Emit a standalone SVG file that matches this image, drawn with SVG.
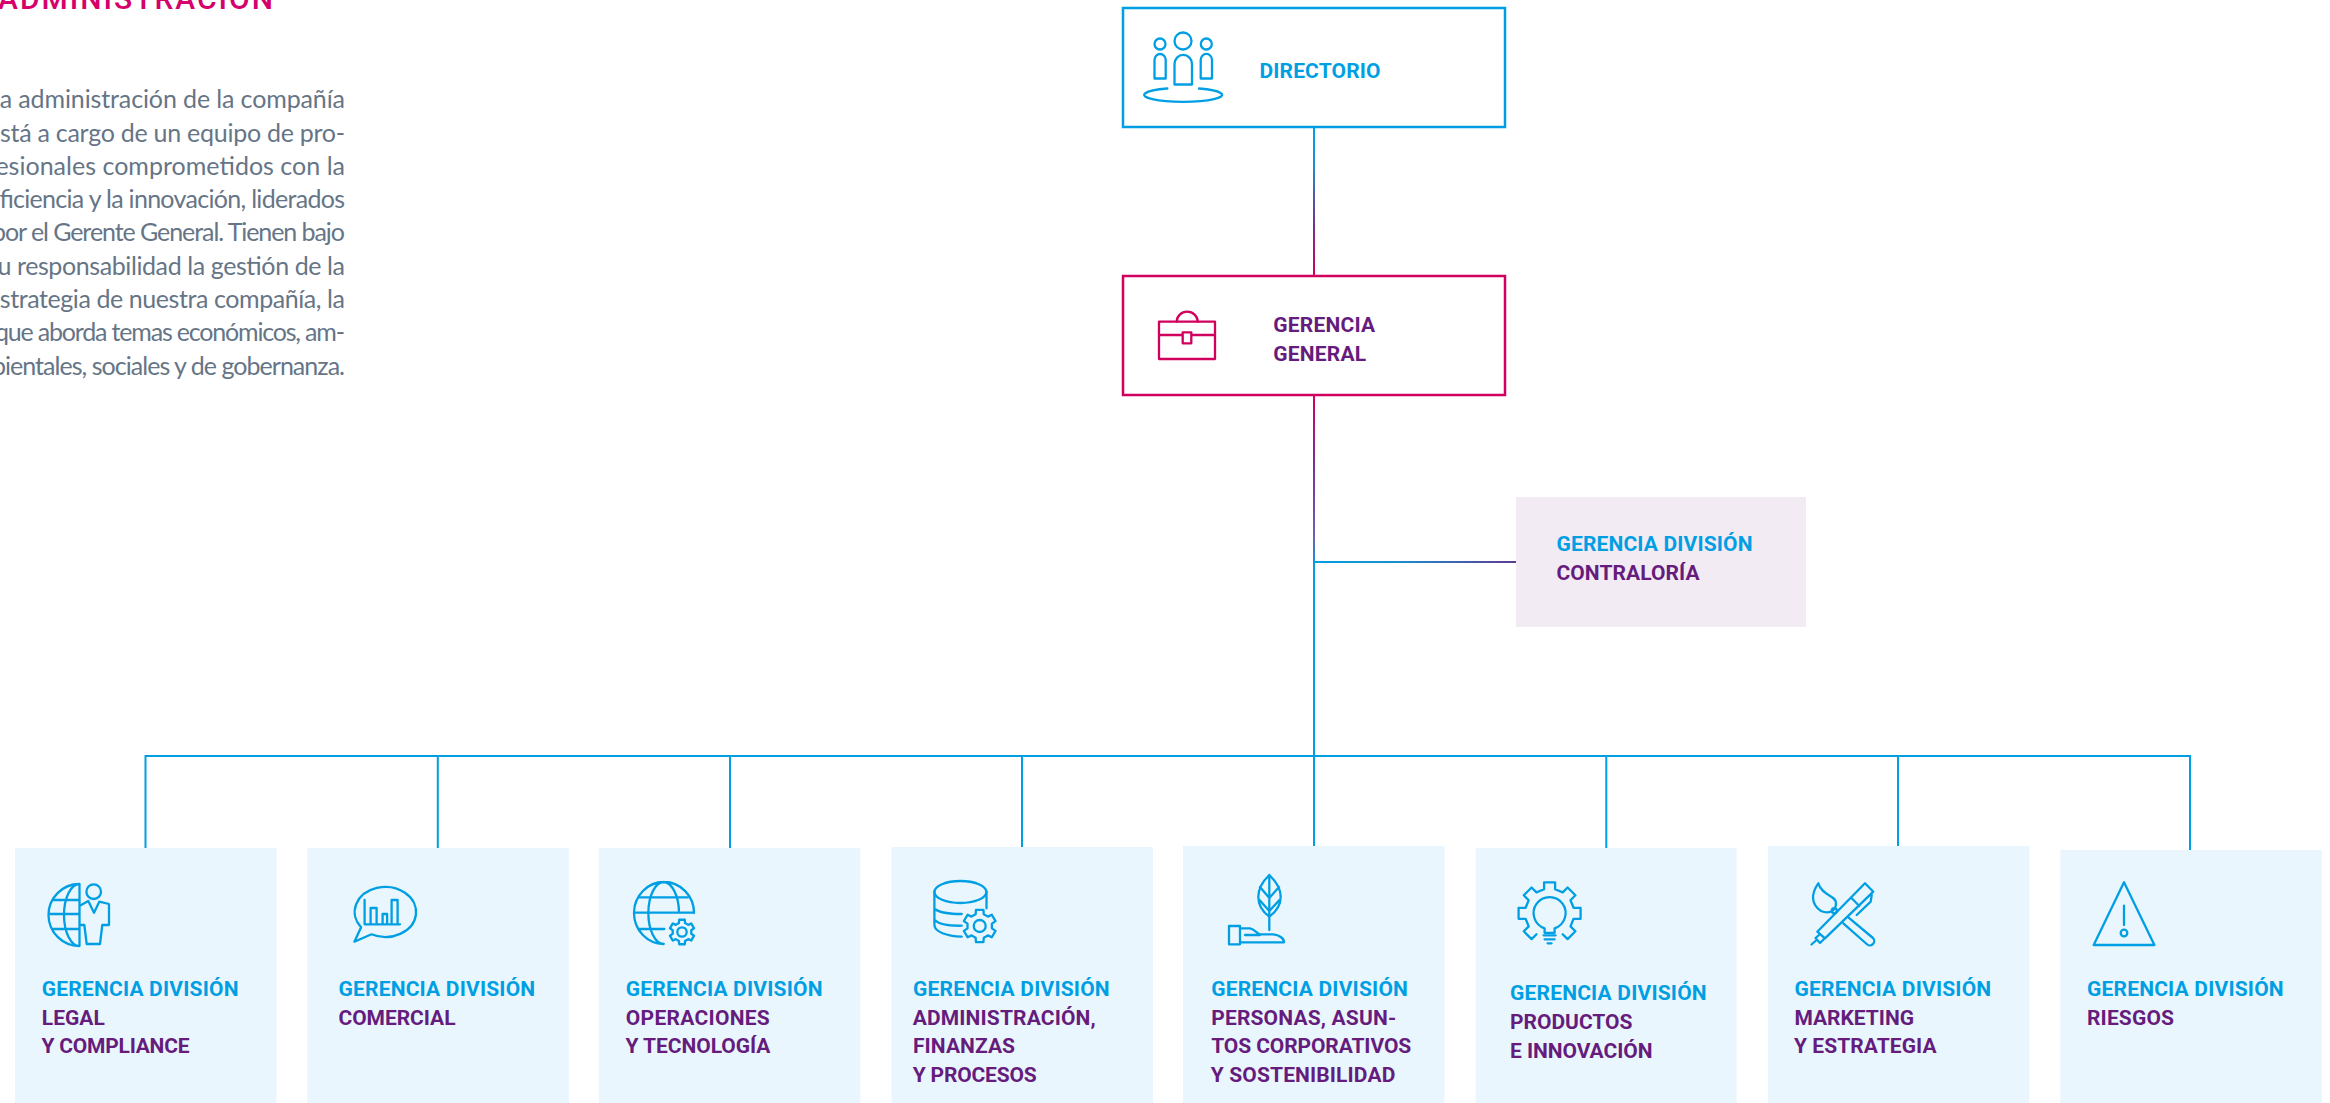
<svg xmlns="http://www.w3.org/2000/svg" width="2330" height="1103" viewBox="0 0 2330 1103">
<style>
text{font-family:"Roboto","Liberation Sans",sans-serif;font-weight:700;font-size:21px}
.b{fill:#009fe3}
.p{fill:#651c7d}
.body{font-family:"Lato","Noto Sans",sans-serif;font-weight:400;font-size:25px;fill:#667586}
.title{font-weight:500;font-size:30px;fill:#d6006d}
.ic{fill:none;stroke:#009fe3;stroke-width:2.3;stroke-linejoin:round;stroke-linecap:round}
.ic.m{stroke:#d1005f}
.card{fill:#eaf6fd}
.lines{fill:none;stroke-width:2}
</style>
<defs>
<linearGradient id="g1" gradientUnits="userSpaceOnUse" x1="1314" y1="127" x2="1314" y2="275"><stop offset="0" stop-color="#009fe3"/><stop offset=".25" stop-color="#1d8fd0"/><stop offset=".65" stop-color="#70338f"/><stop offset="1" stop-color="#d1005f"/></linearGradient>
<linearGradient id="g2" gradientUnits="userSpaceOnUse" x1="1314" y1="395" x2="1314" y2="570"><stop offset="0" stop-color="#d1005f"/><stop offset=".4" stop-color="#7a2f96"/><stop offset=".8" stop-color="#6f5db5"/><stop offset="1" stop-color="#009fe3"/></linearGradient>
<linearGradient id="g3" gradientUnits="userSpaceOnUse" x1="1314" y1="562" x2="1516" y2="562"><stop offset="0" stop-color="#009fe3"/><stop offset=".4" stop-color="#1a8fd2"/><stop offset="1" stop-color="#5f3a90"/></linearGradient>
<path id="gear" d="M-2.93-8.51L-2.7-11.69L2.7-11.69L2.93-8.51L5.9-6.79L8.77-8.18L11.47-3.51L8.84-1.72L8.83 1.72L11.47 3.5L8.77 8.18L5.91 6.8L2.93 8.51L2.7 11.69L-2.7 11.69L-2.93 8.51L-5.9 6.79L-8.77 8.18L-11.47 3.51L-8.84 1.72L-8.83-1.72L-11.47-3.5L-8.77-8.18L-5.91-6.8Z" vector-effect="non-scaling-stroke"/>
</defs>

<g id="intro">
<text class="title" x="-2" y="8.5" textLength="275" lengthAdjust="spacing">ADMINISTRACIÓN</text>
<text class="body" x="-13" y="108" textLength="358" lengthAdjust="spacing">La administración de la compañía</text>
<text class="body" x="-13" y="141.5" textLength="358" lengthAdjust="spacing">está a cargo de un equipo de pro-</text>
<text class="body" x="-13" y="174.5" textLength="358" lengthAdjust="spacing">fesionales comprometidos con la</text>
<text class="body" x="-13" y="208" textLength="358" lengthAdjust="spacing">eficiencia y la innovación, liderados</text>
<text class="body" x="-8" y="241" textLength="353" lengthAdjust="spacing">por el Gerente General. Tienen bajo</text>
<text class="body" x="-13" y="274.5" textLength="358" lengthAdjust="spacing">su responsabilidad la gestión de la</text>
<text class="body" x="-13" y="308" textLength="358" lengthAdjust="spacing">estrategia de nuestra compañía, la</text>
<text class="body" x="-5" y="341" textLength="350" lengthAdjust="spacing">que aborda temas económicos, am-</text>
<text class="body" x="-8" y="374.5" textLength="353" lengthAdjust="spacing">bientales, sociales y de gobernanza.</text>
</g>

<g id="connectors" class="lines">
<path d="M1314 127V275" stroke="url(#g1)"/>
<path d="M1314 395V570" stroke="url(#g2)"/>
<path d="M1314 562H1516" stroke="url(#g3)"/>
<path d="M1314 569V846" stroke="#009fe3"/>
<path d="M145.5 848V756H2190V850M437.8 756V848M730 756V848M1022 756V847M1606.3 756V848M1898 756V846" stroke="#009fe3"/>
</g>

<g id="directorio">
<rect x="1123" y="8" width="382" height="119" fill="#fff" stroke="#009fe3" stroke-width="2.5"/>
<g class="ic">
<circle cx="1183" cy="41" r="8.5"/><circle cx="1160" cy="44" r="5.5"/><circle cx="1206.3" cy="44" r="5.5"/>
<path d="M1174.5 84.5V64A8.7 9 0 0 1 1192 64V84.5Z"/>
<path d="M1154.5 78.5V60A5.6 6 0 0 1 1165.7 60V78.5Z"/>
<path d="M1200.7 78.5V60A5.6 6 0 0 1 1212 60V78.5Z"/>
<path d="M1167.3 88.5A39 7 0 1 0 1199 88.5"/>
</g>
<text class="b" x="1259.5" y="78" textLength="121" lengthAdjust="spacing">DIRECTORIO</text>
</g>

<g id="gerencia-general">
<rect x="1123" y="276" width="382" height="119" fill="#fff" stroke="#d1005f" stroke-width="2.5"/>
<g class="ic m">
<rect x="1159" y="321.7" width="56" height="37.3"/>
<path d="M1159 335H1215M1176.7 321.7A10.5 10 0 0 1 1197.7 321.7"/>
<rect x="1182.7" y="332.3" width="8.6" height="11" fill="#fff"/>
</g>
<text class="p" x="1273.2" y="332" textLength="102" lengthAdjust="spacing">GERENCIA</text>
<text class="p" x="1273.2" y="361" textLength="93" lengthAdjust="spacing">GENERAL</text>
</g>

<g id="contraloria">
<rect x="1516" y="497" width="290" height="130" fill="#f2ebf4"/>
<text class="b" x="1556.5" y="551" textLength="196" lengthAdjust="spacing">GERENCIA DIVISIÓN</text>
<text class="p" x="1556.5" y="580" textLength="143" lengthAdjust="spacing">CONTRALORÍA</text>
</g>

<g id="legal">
<rect class="card" x="15" y="848" width="261.5" height="255"/>
<g class="ic">
<path d="M79.5 884A31 31 0 0 0 79.5 946ZM79.5 884A15.5 31 0 0 0 79.5 946M52.3 900H79.5M48.5 914H79.5M52 929H79.5"/>
<circle cx="93.7" cy="891.7" r="7.3"/>
<path d="M80.7 905.3L88.3 901L94 912.7L99.3 901.7L109 904V925H102.3L100 944H86.7L84.3 925H80.7"/>
</g>
<text class="b" x="41.8" y="996" textLength="196.7" lengthAdjust="spacing">GERENCIA DIVISIÓN</text>
<text class="p" x="41.8" y="1025" textLength="63" lengthAdjust="spacing">LEGAL</text>
<text class="p" x="41.5" y="1053" textLength="148" lengthAdjust="spacing">Y COMPLIANCE</text>
</g>

<g id="comercial">
<rect class="card" x="307.4" y="848" width="261.5" height="255"/>
<g class="ic">
<path d="M371.5 934.3A30.7 25 0 1 0 361.1 927.3L354.4 941.7Z"/>
<path d="M364.6 900V924.3H400M370.6 924V908H376.6V924M382.6 924V914H387.1V924M391.6 924V900H397.6V924"/>
</g>
<text class="b" x="338.5" y="996" textLength="196.7" lengthAdjust="spacing">GERENCIA DIVISIÓN</text>
<text class="p" x="338.5" y="1025" textLength="117" lengthAdjust="spacing">COMERCIAL</text>
</g>

<g id="operaciones">
<rect class="card" x="598.9" y="848" width="261.5" height="255"/>
<g class="ic">
<path d="M694 913A30 31 0 1 0 663.7 944M639 897.3H688M634 912.7H694M638 929H664.3M664 882A15.5 31 0 0 0 663.7 944M664 882A16 31 0 0 1 679 912.7"/>
<use href="#gear" transform="translate(682 932) scale(1.05)"/>
<circle cx="682" cy="932" r="4.7"/>
</g>
<text class="b" x="625.8" y="996" textLength="196.7" lengthAdjust="spacing">GERENCIA DIVISIÓN</text>
<text class="p" x="625.8" y="1025" textLength="144" lengthAdjust="spacing">OPERACIONES</text>
<text class="p" x="625.4" y="1053" textLength="145" lengthAdjust="spacing">Y TECNOLOGÍA</text>
</g>

<g id="administracion">
<rect class="card" x="891.5" y="847" width="261.5" height="256"/>
<g class="ic" transform="translate(-1.3 0)">
<ellipse cx="961.7" cy="892" rx="26" ry="11"/>
<path d="M935.7 892V925C936 932 948 936 963 936.7M936 909C940 912 950 914 963 914M936 920C940 924 950 926 963 925.7M987.8 892V908.3"/>
<use href="#gear" transform="translate(981 926) scale(1.38)"/>
<circle cx="981" cy="926" r="6"/>
</g>
<text class="b" x="913" y="996" textLength="196.7" lengthAdjust="spacing">GERENCIA DIVISIÓN</text>
<text class="p" x="912.7" y="1025" textLength="183" lengthAdjust="spacing">ADMINISTRACIÓN,</text>
<text class="p" x="913" y="1053" textLength="102" lengthAdjust="spacing">FINANZAS</text>
<text class="p" x="912.7" y="1082" textLength="124" lengthAdjust="spacing">Y PROCESOS</text>
</g>

<g id="personas">
<rect class="card" x="1183" y="846" width="261.5" height="257"/>
<g class="ic">
<path d="M1269.3 875C1262 882 1258.3 889 1258.3 896.7C1258.3 905 1263 912 1269.3 916.7C1275.6 912 1280.7 905 1280.7 896.7C1280.7 889 1276.6 882 1269.3 875ZM1269.3 875V930M1260 887L1269.3 898L1279 887M1259.5 900L1269.3 911L1279.5 900"/>
<rect x="1229" y="926" width="11" height="18.3"/>
<path d="M1240 928.3H1250C1255 929 1257 934.3 1260 934.3H1273.3C1279 935 1284 938 1284 942.3H1240M1245 935H1260"/>
</g>
<text class="b" x="1211.2" y="996" textLength="196.7" lengthAdjust="spacing">GERENCIA DIVISIÓN</text>
<text class="p" x="1211.2" y="1025" textLength="185" lengthAdjust="spacing">PERSONAS, ASUN-</text>
<text class="p" x="1211.2" y="1053" textLength="200" lengthAdjust="spacing">TOS CORPORATIVOS</text>
<text class="p" x="1210.8" y="1082" textLength="184.5" lengthAdjust="spacing">Y SOSTENIBILIDAD</text>
</g>

<g id="productos">
<rect class="card" x="1475.6" y="848" width="261" height="255"/>
<g class="ic" transform="translate(1549.6 913.3)">
<path d="M-13.1 20.9L-18 25.8L-25.8 18L-20.9 13.1L-24 5.5H-31V-5.5H-24L-20.9-13.1L-25.8-18L-18-25.8L-13.1-20.9L-5.5-24V-31H5.5V-24L13.1-20.9L18-25.8L25.8-18L20.9-13.1L24-5.5H31V5.5H24L20.9 13.1L25.8 18L18 25.8L13.1 20.9"/>
<path d="M-5 15A16 16 0 1 1 5 15V19.5H-5ZM-6 22H6M-5 26H5M-2 30H2"/>
</g>
<text class="b" x="1510" y="1000" textLength="196.7" lengthAdjust="spacing">GERENCIA DIVISIÓN</text>
<text class="p" x="1510" y="1029" textLength="122.5" lengthAdjust="spacing">PRODUCTOS</text>
<text class="p" x="1510" y="1058" textLength="142.5" lengthAdjust="spacing">E INNOVACIÓN</text>
</g>

<g id="marketing">
<rect class="card" x="1768" y="846" width="261.3" height="257"/>
<g class="ic">
<path d="M1817.3 931.7L1865 883.3L1873.3 891.7L1825 938.3ZM1851.7 898.3L1859.3 906M1819 935L1815.5 938L1820 943L1824 939M1815.5 941L1811.5 944.5M1871.7 895L1870.7 901.7L1856.7 915"/>
<path d="M1818.3 883.3C1810 895 1812 905 1821 911C1828 914 1836 912 1836 903C1836 895 1822 896 1818.3 883.3Z"/>
<circle cx="1834.3" cy="910.7" r="2.5"/>
<path d="M1843.3 923.3L1866.7 944A4 4 0 0 0 1873 938L1848.3 917.3"/>
</g>
<text class="b" x="1794.5" y="996" textLength="196.7" lengthAdjust="spacing">GERENCIA DIVISIÓN</text>
<text class="p" x="1794.5" y="1025" textLength="119.5" lengthAdjust="spacing">MARKETING</text>
<text class="p" x="1794" y="1053" textLength="142.5" lengthAdjust="spacing">Y ESTRATEGIA</text>
</g>

<g id="riesgos">
<rect class="card" x="2060.4" y="850" width="261.6" height="253"/>
<g class="ic">
<path d="M2124 882.3L2093.7 945H2154.4ZM2124 905.7V925"/>
<circle cx="2124" cy="933" r="3.3"/>
</g>
<text class="b" x="2087" y="996" textLength="196.7" lengthAdjust="spacing">GERENCIA DIVISIÓN</text>
<text class="p" x="2087" y="1025" textLength="87" lengthAdjust="spacing">RIESGOS</text>
</g>
</svg>
